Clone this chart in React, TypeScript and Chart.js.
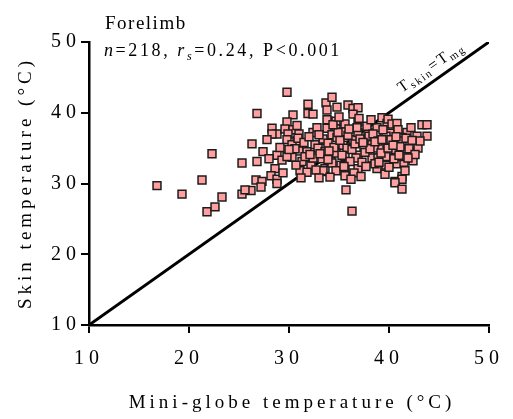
import React, { useEffect, useRef } from "react";
import { Chart, registerables } from "chart.js";

Chart.register(...registerables);

// Mini-globe temperature (°C), x values
const miniGlobeTemp: number[] = [
  16.8, 19.3, 21.3, 22.3, 21.8, 22.6, 23.3, 25.3, 25.3, 26.3, 26.8, 26.8, 27.4, 26.7, 27.3, 26.2, 25.6, 27.2,
  29.8, 31.9, 31.9, 32.4, 33.7, 30.4, 29.8, 28.3, 28.8, 28.3, 29.6, 30.4, 30.8, 31.0, 29.9, 29.8, 30.8, 30.3,
  32.4, 31.0, 31.8, 32.9, 28.8, 29.3, 30.3, 31.3, 32.2, 33.3, 33.4, 28.6, 28.2, 28.8, 28.8, 31.1, 31.8, 33.3,
  30.9, 33.4, 32.6, 29.8, 32.4, 33.6, 34.2, 33.9, 32.9,
  34.3, 33.8, 34.8, 35.9, 36.4, 36.9, 36.4, 33.8, 34.7, 36.9, 35.6, 33.8, 34.7, 35.4, 37.9, 38.8, 39.3, 39.8,
  34.3, 34.8, 36.4, 38.3, 39.5, 40.3, 33.9, 35.4, 35.8, 37.5, 38.3, 39.1, 33.6, 34.7, 35.6, 36.9, 38.3, 39.6,
  34.3, 35.2, 35.6, 36.9, 39.5, 33.4, 34.7, 35.6, 40.6, 35.7, 36.3,
  36.9, 38.0, 38.5, 36.7, 38.9, 38.8,
  39.9, 40.3, 43.3, 43.8, 43.8, 41.8, 42.8, 41.3, 40.6, 41.8, 42.4, 42.9, 40.3, 41.8, 40.1, 40.8, 41.5, 42.4,
  41.3, 41.3, 40.6, 41.3, 40.8, 40.1, 39.7, 41.3, 39.8, 40.6, 41.6, 39.7, 39.7,
  30.6, 31.5, 32.0, 32.8, 33.1, 33.9, 34.5, 34.9, 35.1, 35.3, 35.9, 36.1, 36.3, 36.6, 36.8, 37.1, 37.3, 37.6,
  37.8, 38.1, 38.4, 38.6, 38.9, 39.2, 39.4, 39.9, 40.2, 40.5, 40.9, 41.1, 41.4, 41.7, 42.0, 42.2, 42.6, 43.1,
  30.0, 30.7, 31.6, 32.1, 32.7, 33.0, 34.0, 34.4, 35.0, 35.5, 36.0, 36.5, 37.0, 37.4, 37.7, 38.2, 38.6, 39.0,
  39.3, 39.6, 40.0, 40.4, 40.7, 41.0, 41.9, 42.3, 28.0, 27.8, 29.1, 29.4, 31.2, 33.0, 34.1, 36.2, 37.2, 41.6,
];

// Skin temperature (°C), y values
const skinTemp: number[] = [
  29.7, 28.5, 30.5, 34.2, 26.0, 26.7, 28.1, 28.5, 32.9, 35.6, 39.9, 33.1, 34.5, 30.5, 30.3, 29.0, 29.1, 29.5,
  42.9, 41.2, 39.9, 39.8, 41.4, 39.7, 38.7, 37.8, 37.0, 37.0, 37.7, 37.6, 38.2, 37.0, 37.0, 36.2, 36.0, 35.5,
  37.2, 34.6, 34.5, 35.5, 34.0, 33.3, 33.7, 33.1, 32.5, 33.5, 35.0, 32.1, 31.1, 30.6, 30.0, 31.8, 31.6, 31.7,
  36.4, 36.3, 35.5, 33.8, 33.6, 32.1, 33.1, 38.8, 35.0,
  42.2, 40.4, 40.8, 41.1, 40.6, 40.7, 39.8, 39.0, 38.8, 38.7, 38.4, 37.8, 37.7, 37.3, 37.2, 37.9, 39.3, 38.5,
  36.9, 36.5, 36.2, 36.4, 36.8, 36.9, 35.7, 35.4, 35.0, 35.2, 35.5, 35.2, 34.5, 34.3, 33.8, 34.0, 33.6, 33.5,
  32.9, 32.6, 31.8, 32.1, 32.1, 31.8, 31.8, 31.1, 30.3, 29.1, 26.1,
  37.2, 36.7, 35.0, 33.6, 33.6, 32.1,
  39.1, 38.4, 38.3, 38.3, 36.7, 37.2, 36.7, 36.5, 35.8, 35.5, 35.5, 35.0, 34.4, 34.3, 33.1, 32.8, 33.0, 33.2,
  31.0, 30.6, 30.1, 29.2, 38.5, 37.1, 36.7, 36.0, 35.7, 34.8, 34.5, 33.8, 32.6,
  34.9, 35.8, 36.6, 37.9, 34.2, 33.4, 35.1, 37.2, 36.1, 34.0, 36.8, 33.1, 34.8, 35.6, 37.9, 36.3, 33.0, 34.4,
  38.1, 34.9, 37.0, 32.8, 36.0, 34.3, 37.6, 35.0, 36.2, 33.5, 37.6, 35.2, 33.8, 36.4, 34.9, 37.9, 34.1, 36.0,
  34.8, 32.6, 33.8, 34.1, 31.9, 36.9, 34.6, 38.3, 39.4, 32.4, 37.7, 31.5, 39.2, 35.8, 32.4, 39.0, 35.9, 33.0,
  36.2, 31.3, 32.3, 35.4, 36.6, 34.0, 33.6, 36.1, 33.5, 36.2, 35.1, 31.5, 30.8, 30.8, 30.9, 30.6, 31.0, 31.8,
];

// Line of identity T_skin = T_mg
const identityX: number[] = [10, 50];
const identityY: number[] = [10, 50];

const axisMin = 10;
const axisMax = 50;
const tickStep = 10;

const panelTitle = "Forelimb";
const statN = "218";
const statR = "0.24";
const statP = "0.001";
const xTitle = "Mini-globe temperature (°C)";
const yTitle = "Skin temperature (°C)";

const SERIF = "'Liberation Serif', 'Times New Roman', serif";

function drawRuns(ctx: CanvasRenderingContext2D, x: number, y: number, runs: { t: string; font: string; dy?: number }[]) {
  let cx = x;
  for (const r of runs) {
    ctx.font = r.font;
    ctx.fillText(r.t, cx, y + (r.dy || 0));
    cx += ctx.measureText(r.t).width;
  }
  return cx;
}

const textPlugin = {
  id: "customTexts",
  beforeDraw(chart: any) {
    (chart.ctx as any).letterSpacing = "5px";
  },
  afterDraw(chart: any) {
    const ctx: CanvasRenderingContext2D = chart.ctx;
    const xs = chart.scales.x;
    const ys = chart.scales.y;
    ctx.save();
    ctx.fillStyle = "#000";
    ctx.textBaseline = "alphabetic";
    ctx.textAlign = "left";

    // panel title
    (ctx as any).letterSpacing = "1.5px";
    ctx.font = `19px ${SERIF}`;
    ctx.fillText(panelTitle, 105, 29);

    // stats line
    (ctx as any).letterSpacing = "2.6px";
    drawRuns(ctx, 104, 56, [
      { t: "n", font: `italic 18px ${SERIF}` },
      { t: "=" + statN + ", ", font: `18px ${SERIF}` },
      { t: "r", font: `italic 18px ${SERIF}` },
      { t: "s", font: `italic 12px ${SERIF}`, dy: 4 },
      { t: "=" + statR + ", P<" + statP, font: `18px ${SERIF}` },
    ]);

    // identity line label
    const p0x = xs.getPixelForValue(identityX[0]);
    const p0y = ys.getPixelForValue(identityY[0]);
    const p1x = xs.getPixelForValue(identityX[1]);
    const p1y = ys.getPixelForValue(identityY[1]);
    const ang = Math.atan2(p1y - p0y, p1x - p0x);
    ctx.save();
    ctx.translate(402, 93);
    ctx.rotate(ang);
    (ctx as any).letterSpacing = "1.8px";
    drawRuns(ctx, 0, 0, [
      { t: "T", font: `16px ${SERIF}` },
      { t: "skin", font: `11px ${SERIF}`, dy: 3 },
      { t: "=T", font: `16px ${SERIF}` },
      { t: "mg", font: `11px ${SERIF}`, dy: 3 },
    ]);
    ctx.restore();

    // axis titles
    (ctx as any).letterSpacing = "4px";
    ctx.font = `19px ${SERIF}`;
    ctx.textAlign = "center";
    ctx.textBaseline = "middle";
    ctx.fillText(xTitle, 292, 403);
    ctx.save();
    ctx.translate(26, 183);
    ctx.rotate(-Math.PI / 2);
    ctx.fillText(yTitle, 0, 0);
    ctx.restore();

    ctx.restore();
  },
};

export default function App() {
  const canvasRef = useRef<HTMLCanvasElement | null>(null);

  useEffect(() => {
    const canvas = canvasRef.current;
    if (!canvas) return;
    const points = miniGlobeTemp.map((x, i) => ({ x, y: skinTemp[i] }));
    const linePts = identityX.map((x, i) => ({ x, y: identityY[i] }));

    const tickFont = { family: SERIF, size: 20 };
    const chart = new Chart(canvas, {
      type: "scatter",
      data: {
        datasets: [
          {
            type: "scatter",
            label: "Forelimb",
            data: points,
            pointStyle: "rect",
            pointRadius: 5.6,
            backgroundColor: "#ff9f9f",
            borderColor: "#1c1c1c",
            borderWidth: 1.5,
            order: 1,
          },
          {
            type: "line",
            label: "identity",
            data: linePts,
            borderColor: "#000",
            borderWidth: 3,
            pointRadius: 0,
            fill: false,
            order: 2,
          } as any,
        ],
      },
      options: {
        responsive: false,
        animation: false,
        events: [],
        layout: { padding: { top: 42, right: 18, left: 0, bottom: 0 } },
        plugins: {
          legend: { display: false },
          tooltip: { enabled: false },
          title: { display: false },
        },
        scales: {
          x: {
            type: "linear",
            min: axisMin,
            max: axisMax,
            ticks: { stepSize: tickStep, color: "#000", font: tickFont, padding: 14, maxRotation: 0 },
            grid: { drawOnChartArea: false, drawTicks: true, tickLength: 8, color: "#000", lineWidth: 2 },
            border: { display: true, color: "#000", width: 2.5 },
            afterFit: (scale: any) => {
              scale.height = 94;
            },
          },
          y: {
            type: "linear",
            min: axisMin,
            max: axisMax,
            ticks: { stepSize: tickStep, color: "#000", font: tickFont, padding: 0 },
            grid: { drawOnChartArea: false, drawTicks: true, tickLength: 8, color: "#000", lineWidth: 2 },
            border: { display: true, color: "#000", width: 2.5 },
            afterFit: (scale: any) => {
              scale.width = 89;
            },
          },
        },
      },
      plugins: [textPlugin],
    });
    return () => chart.destroy();
  }, []);

  return (
    <div style={{ position: "absolute", left: 0, top: 0, width: 513, height: 419, background: "#fff" }}>
      <canvas ref={canvasRef} width={513} height={419} style={{ display: "block" }} />
    </div>
  );
}
